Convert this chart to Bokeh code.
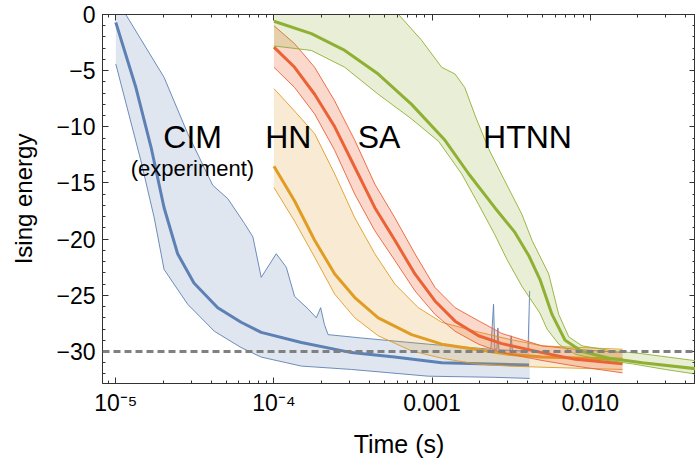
import numpy as np
from bokeh.plotting import figure
from bokeh.models import (Range1d, FixedTicker, SingleIntervalTicker, CustomJSTickFormatter,
                          LogAxis, LinearAxis, Span, Label)
from bokeh.embed import file_html
from bokeh.resources import INLINE

# ---------------- data (time in s, Ising energy) ----------------
# CIM (experiment)
cim_t = [1.0e-5, 1.34e-5, 1.67e-5, 2.02e-5, 2.46e-5, 3.12e-5, 4.41e-5, 6.20e-5, 8.31e-5,
         1.49e-4, 3.09e-4, 5.79e-4, 1.15e-3, 4.1e-3]
cim_mid = [-0.7, -6.5, -11.8, -17.2, -21.3, -23.9, -26.1, -27.4, -28.3,
           -29.2, -30.1, -30.5, -31.0, -31.2]
cim_up_t = [1.0e-5, 1.157e-5, 2.02e-5, 2.85e-5, 4.10e-5, 5.11e-5, 6.51e-5, 7.36e-5, 8.31e-5,
            1.034e-4, 1.197e-4, 1.351e-4, 1.642e-4, 1.854e-4, 1.974e-4, 2.085e-4, 2.20e-4,
            3.58e-4, 9.47e-4, 2.352e-3, 2.447e-3, 2.494e-3, 2.568e-3, 2.606e-3, 2.645e-3,
            3.105e-3, 3.16e-3, 3.22e-3, 4.04e-3, 4.14e-3]
cim_up = [1.4, 0.0, -5.6, -10.6, -15.2, -16.4, -18.6, -19.8, -23.4,
          -21.3, -22.5, -25.1, -26.2, -27.0, -26.1, -27.6, -28.5,
          -28.8, -29.35, -29.8, -25.8, -29.8, -29.8, -27.9, -29.85,
          -29.9, -28.6, -29.9, -30.0, -24.6]
cim_lo_t = [1.0e-5, 1.44e-5, 1.75e-5, 2.02e-5, 2.85e-5, 4.20e-5, 6.20e-5, 8.31e-5,
            1.49e-4, 3.09e-4, 9.47e-4, 2.49e-3, 4.14e-3]
cim_lo = [-4.4, -13.0, -18.1, -22.7, -25.8, -28.2, -29.65, -30.5,
          -31.3, -31.6, -32.2, -32.3, -32.4]

# HN
hn_t = [1.0e-4, 1.351e-4, 1.808e-4, 2.423e-4, 3.245e-4, 4.565e-4, 7.42e-4, 1.15e-3,
        1.871e-3, 3.047e-3, 4.955e-3, 1.6e-2]
hn_mid = [-13.5, -16.6, -20.1, -23.1, -25.2, -27.0, -28.5, -29.35,
          -29.8, -30.25, -30.5, -30.7]
hn_up_t = [1.0e-4, 1.351e-4, 1.808e-4, 2.423e-4, 3.245e-4, 4.344e-4, 5.816e-4, 8.18e-4,
           1.15e-3, 1.871e-3, 3.047e-3, 4.955e-3, 1.6e-2]
hn_up = [-6.6, -8.6, -10.6, -14.2, -18.1, -21.3, -24.0, -26.1,
         -27.4, -28.2, -28.9, -29.5, -29.8]
hn_lo_t = [1.0e-4, 1.351e-4, 1.808e-4, 2.423e-4, 3.245e-4, 4.565e-4, 7.42e-4, 1.15e-3,
           1.871e-3, 3.047e-3, 4.955e-3, 1.6e-2]
hn_lo = [-15.4, -18.4, -21.6, -24.9, -27.0, -28.6, -29.95, -30.6,
         -31.1, -31.3, -31.4, -31.6]

# SA
sa_t = [1.0e-4, 1.351e-4, 1.808e-4, 2.423e-4, 3.245e-4, 4.344e-4, 5.816e-4, 7.79e-4,
        1.043e-3, 1.397e-3, 1.966e-3, 2.762e-3, 4.955e-3, 8.058e-3, 1.6e-2]
sa_mid = [-2.9, -4.7, -7.1, -10.0, -13.6, -17.2, -20.1, -23.1,
          -25.5, -27.3, -28.6, -29.3, -30.1, -30.7, -31.1]
sa_up_t = [1.0e-4, 1.351e-4, 1.808e-4, 2.423e-4, 3.245e-4, 4.344e-4, 5.816e-4, 7.79e-4,
           1.043e-3, 1.397e-3, 1.871e-3, 2.762e-3, 4.955e-3, 8.058e-3, 1.6e-2]
sa_up = [-1.0, -2.6, -4.7, -7.7, -11.2, -15.1, -18.1, -21.3,
         -24.3, -26.1, -27.1, -28.4, -29.5, -29.8, -30.1]
sa_lo_t = [1.0e-4, 1.351e-4, 1.808e-4, 2.423e-4, 3.245e-4, 4.344e-4, 5.816e-4, 7.79e-4,
           1.043e-3, 1.397e-3, 1.966e-3, 2.762e-3, 4.955e-3, 8.058e-3, 1.6e-2]
sa_lo = [-4.7, -6.5, -8.85, -12.1, -16.0, -19.25, -21.9, -24.6,
         -26.7, -28.2, -29.35, -30.1, -30.8, -31.3, -31.9]

# HTNN
ht_t = [1.0e-4, 1.724e-4, 2.804e-4, 4.565e-4, 7.42e-4, 1.207e-3, 1.706e-3, 2.493e-3,
        3.34e-3, 4.098e-3, 4.812e-3, 5.731e-3, 6.932e-3, 8.884e-3, 1.318e-2, 2.134e-2, 5.12e-2]
ht_mid = [-0.6, -1.7, -3.2, -5.3, -8.0, -11.2, -14.2, -17.2,
          -19.4, -21.5, -23.6, -26.7, -29.0, -30.0, -30.6, -31.0, -31.6]
ht_up_t = [1.0e-4, 3.093e-4, 6.14e-4, 8.59e-4, 1.15e-3, 1.397e-3, 1.609e-3, 1.871e-3,
           2.285e-3, 2.762e-3, 3.7e-3, 4.282e-3, 5.463e-3, 6.321e-3, 7.317e-3, 8.884e-3,
           1.318e-2, 2.134e-2, 5.12e-2]
ht_up = [0.8, 0.5, 0.0, -2.3, -4.7, -5.3, -6.5, -9.0,
         -12.0, -14.3, -17.8, -20.1, -23.1, -26.7, -28.7, -29.5,
         -29.9, -30.2, -30.9]
ht_lo_t = [1.0e-4, 1.724e-4, 2.804e-4, 4.565e-4, 7.42e-4, 1.101e-3, 1.54e-3, 1.966e-3,
           2.493e-3, 2.972e-3, 3.7e-3, 4.812e-3, 5.329e-3, 6.321e-3, 8.058e-3, 1.139e-2,
           1.843e-2, 2.985e-2, 5.12e-2]
ht_lo = [-2.8, -3.2, -4.7, -7.1, -9.3, -11.3, -14.2, -16.9,
         -19.6, -21.8, -24.2, -26.6, -28.0, -29.35, -30.25, -30.7,
         -31.1, -31.6, -32.1]

ground_energy = -30

x_ticks = [1e-5, 1e-4, 1e-3, 1e-2]
x_tick_labels = ["10\u207b\u2075", "10\u207b\u2074", "0.001", "0.010"]

series_names = ["CIM", "HN", "SA", "HTNN"]

# ---------------- styling ----------------
BLUE, ORANGE, RED, GREEN = "#5E81B5", "#E19C24", "#EB6235", "#8FB032"
FRAME = "#333333"
FONT = "Liberation Sans"

p = figure(width=695, height=461, x_axis_type="log",
           x_range=Range1d(8.24e-6, 4.63e-2), y_range=Range1d(-32.85, 0),
           output_backend="svg", toolbar_location=None,
           min_border_left=102, min_border_right=0, min_border_top=14, min_border_bottom=78)
p.grid.visible = False
p.outline_line_color = FRAME
p.background_fill_color = "white"
p.border_fill_color = "white"

def band(t, mid, up_t, up, lo_t, lo, color, alpha):
    px = list(up_t) + list(lo_t)[::-1]
    py = list(up) + list(lo)[::-1]
    p.patch(px, py, fill_color=color, fill_alpha=alpha, line_color=None)
    p.line(up_t, up, line_color=color, line_width=1, line_alpha=0.9)
    p.line(lo_t, lo, line_color=color, line_width=1, line_alpha=0.9)
    p.line(t, mid, line_color=color, line_width=3)

band(cim_t, cim_mid, cim_up_t, cim_up, cim_lo_t, cim_lo, BLUE, 0.2)
band(hn_t, hn_mid, hn_up_t, hn_up, hn_lo_t, hn_lo, ORANGE, 0.2)
band(sa_t, sa_mid, sa_up_t, sa_up, sa_lo_t, sa_lo, RED, 0.25)
band(ht_t, ht_mid, ht_up_t, ht_up, ht_lo_t, ht_lo, GREEN, 0.2)

p.add_layout(Span(location=ground_energy, dimension="width", line_color="#808080",
                  line_width=3, line_dash="7 4"))

# ticks
minor_x = [m * 10.0 ** e for e in range(-6, -1) for m in range(2, 10)]
xt = FixedTicker(ticks=x_ticks, minor_ticks=minor_x)
xfmt = CustomJSTickFormatter(args=dict(tvals=x_ticks, tlabels=x_tick_labels), code="""
    let best = 0, bd = 1e9;
    for (let i = 0; i < tvals.length; i++) {
        const d = Math.abs(Math.log10(tick) - Math.log10(tvals[i]));
        if (d < bd) { bd = d; best = i; }
    }
    return tlabels[best];
""")
yfmt = CustomJSTickFormatter(code="""
    return tick < 0 ? "\\u2212" + Math.abs(tick) : String(tick);
""")
yt = SingleIntervalTicker(interval=5, num_minor_ticks=5)

def style_axis(ax):
    ax.axis_line_color = FRAME
    ax.major_tick_line_color = FRAME
    ax.minor_tick_line_color = FRAME
    ax.major_tick_in = 6
    ax.major_tick_out = 0
    ax.minor_tick_in = 3
    ax.minor_tick_out = 0

xa = p.xaxis[0]
xa.ticker = xt
xa.formatter = xfmt
style_axis(xa)
xa.major_label_text_font = FONT
xa.major_label_text_font_size = "23px"
xa.major_label_text_color = "black"
xa.major_label_standoff = 6
xa.axis_label = "Time (s)"
xa.axis_label_text_font = FONT
xa.axis_label_text_font_size = "25px"
xa.axis_label_text_font_style = "normal"
xa.axis_label_text_color = "black"
xa.axis_label_standoff = 11

ya = p.yaxis[0]
ya.ticker = yt
ya.formatter = yfmt
style_axis(ya)
ya.major_label_text_font = FONT
ya.major_label_text_font_size = "23px"
ya.major_label_text_color = "black"
ya.major_label_standoff = 7
ya.axis_label = "Ising energy"
ya.axis_label_text_font = FONT
ya.axis_label_text_font_size = "24px"
ya.axis_label_text_font_style = "normal"
ya.axis_label_text_color = "black"
ya.axis_label_standoff = 16

blank = CustomJSTickFormatter(code='return "";')

top = LogAxis(ticker=FixedTicker(ticks=x_ticks, minor_ticks=minor_x), formatter=blank)
style_axis(top)
top.major_label_text_font_size = "1px"
top.major_label_standoff = 0
p.add_layout(top, "above")

right = LinearAxis(ticker=SingleIntervalTicker(interval=5, num_minor_ticks=5), formatter=blank)
style_axis(right)
right.major_label_text_font_size = "1px"
right.major_label_standoff = 0
p.add_layout(right, "right")

# series labels
def lab(text, x, y, size):
    p.add_layout(Label(x=x, y=y, text=text, text_font=FONT, text_font_size=size,
                       text_align="center", text_baseline="alphabetic", text_color="black"))

lab(series_names[0], 3.06e-5, -10.94, "32px")
lab("(experiment)", 3.05e-5, -13.75, "22px")
lab(series_names[1], 1.232e-4, -10.94, "32px")
lab(series_names[2], 4.62e-4, -10.94, "32px")
lab(series_names[3], 4.01e-3, -10.94, "32px")

open("out.html", "w").write(file_html(p, INLINE))
